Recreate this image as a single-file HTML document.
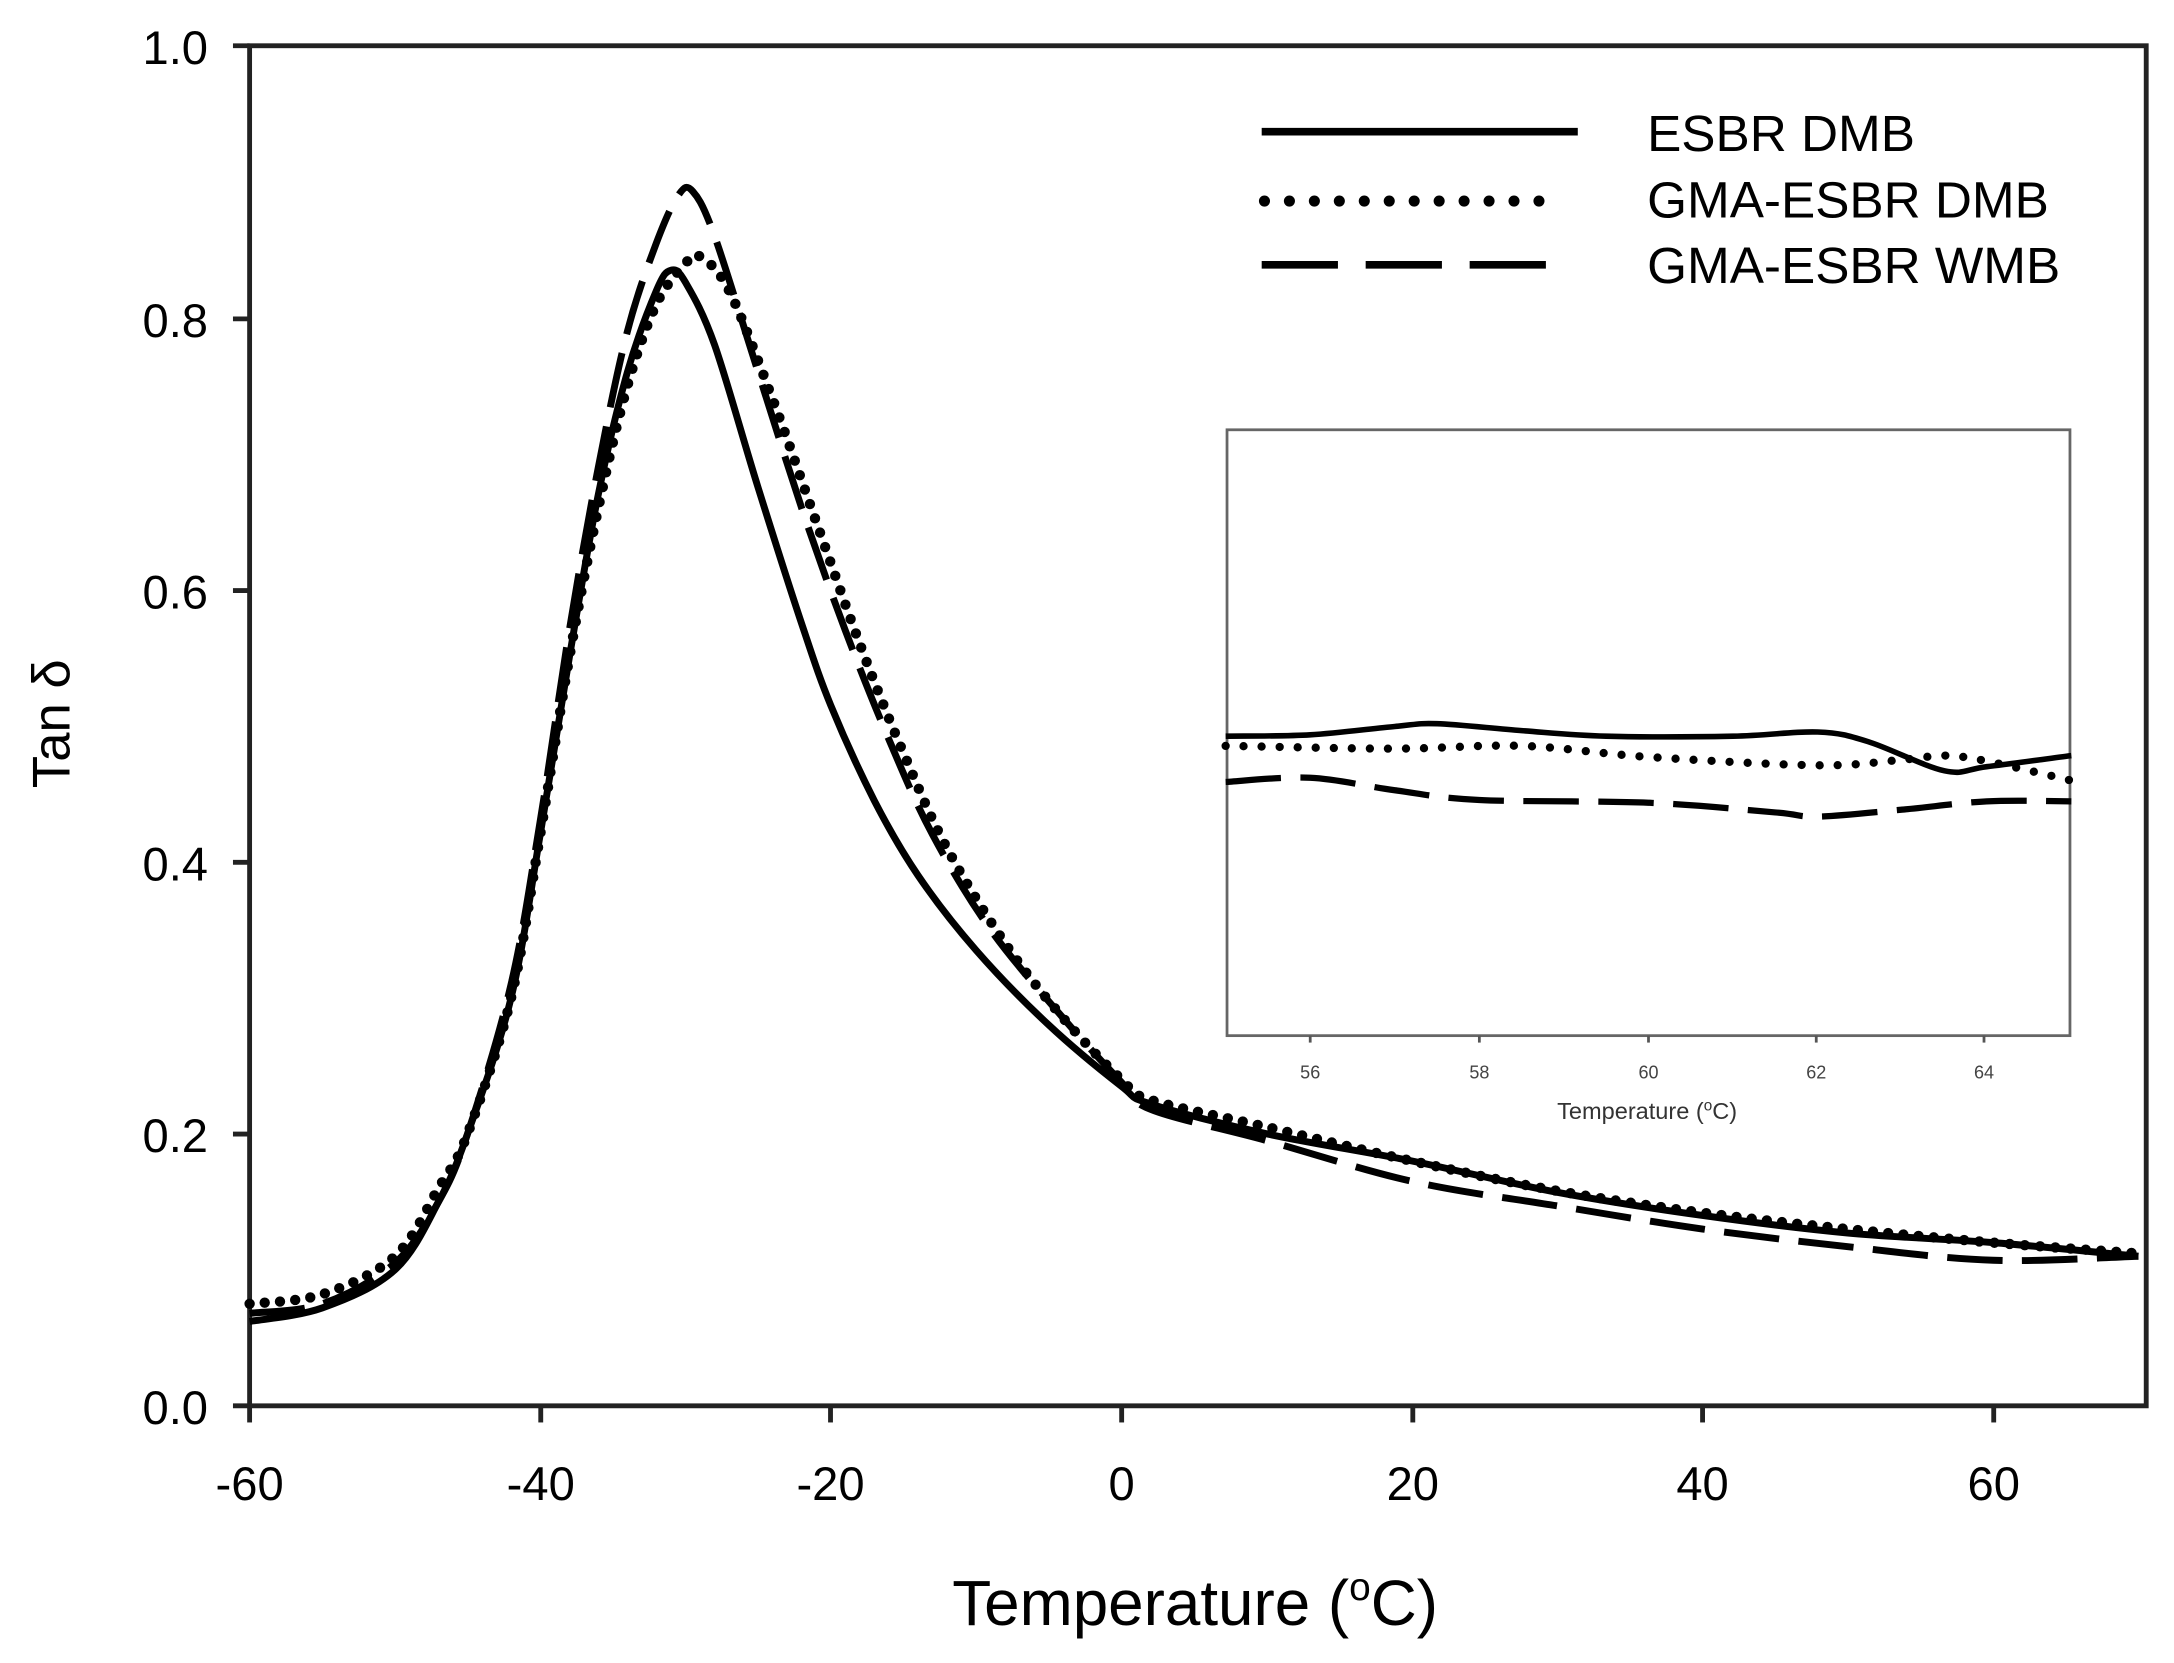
<!DOCTYPE html>
<html><head><meta charset="utf-8"><style>
html,body{margin:0;padding:0;background:#fff}
svg{display:block}
text{font-family:"Liberation Sans",Arial,sans-serif;fill:#000}
</style></head><body>
<svg id="s" width="2174" height="1663" viewBox="0 0 1568 1199.5" xmlns="http://www.w3.org/2000/svg">
<g stroke="#222" stroke-width="3.5" fill="none">
<rect x="180" y="33" width="1368" height="981"/>
<line x1="168" y1="33" x2="180" y2="33"/><line x1="168" y1="230" x2="180" y2="230"/><line x1="168" y1="426" x2="180" y2="426"/><line x1="168" y1="622" x2="180" y2="622"/><line x1="168" y1="818" x2="180" y2="818"/><line x1="168" y1="1014" x2="180" y2="1014"/>
<line x1="180" y1="1014" x2="180" y2="1026"/><line x1="390" y1="1014" x2="390" y2="1026"/><line x1="599" y1="1014" x2="599" y2="1026"/><line x1="809" y1="1014" x2="809" y2="1026"/><line x1="1019" y1="1014" x2="1019" y2="1026"/><line x1="1228" y1="1014" x2="1228" y2="1026"/><line x1="1438" y1="1014" x2="1438" y2="1026"/>
</g>
<g font-size="34" text-anchor="end">
<text x="150" y="46">1.0</text><text x="150" y="243">0.8</text><text x="150" y="439">0.6</text><text x="150" y="635">0.4</text><text x="150" y="831">0.2</text><text x="150" y="1027">0.0</text>
</g>
<g font-size="34" text-anchor="middle">
<text x="180" y="1082">-60</text><text x="390" y="1082">-40</text><text x="599" y="1082">-20</text><text x="809" y="1082">0</text><text x="1019" y="1082">20</text><text x="1228" y="1082">40</text><text x="1438" y="1082">60</text>
</g>
<text x="862" y="1172" font-size="46" text-anchor="middle">Temperature (<tspan font-size="28" dy="-18">o</tspan><tspan dy="18">C)</tspan></text>
<text transform="translate(50,522) rotate(-90)" font-size="38" text-anchor="middle">Tan δ</text>
<g stroke="#000" stroke-width="5.5" fill="none">
<line x1="910" y1="95" x2="1138" y2="95"/>
<line x1="912" y1="145" x2="1128" y2="145" stroke-width="8" stroke-linecap="round" stroke-dasharray="0 18"/>
<line x1="910" y1="191" x2="1115" y2="191" stroke-dasharray="55 20"/>
</g>
<g font-size="37">
<text x="1188" y="109">ESBR DMB</text><text x="1188" y="157">GMA-ESBR DMB</text><text x="1188" y="204">GMA-ESBR WMB</text>
</g>
<rect x="885" y="310" width="608" height="437" fill="#fff" stroke="#666" stroke-width="2"/>
<g stroke="#555" stroke-width="2">
<line x1="945" y1="747" x2="945" y2="752"/><line x1="1067" y1="747" x2="1067" y2="752"/><line x1="1189" y1="747" x2="1189" y2="752"/><line x1="1310" y1="747" x2="1310" y2="752"/><line x1="1431" y1="747" x2="1431" y2="752"/>
</g>
<g font-size="13" text-anchor="middle">
<text x="945" y="778" style="fill:#444">56</text><text x="1067" y="778" style="fill:#444">58</text><text x="1189" y="778" style="fill:#444">60</text><text x="1310" y="778" style="fill:#444">62</text><text x="1431" y="778" style="fill:#444">64</text>
<text x="1188" y="807" font-size="17" style="fill:#333">Temperature (<tspan font-size="11" dy="-6">o</tspan><tspan dy="6">C)</tspan></text>
</g>
<g id="curves" fill="none" stroke="#000"></g>
</svg>
<script>
function X(t){return 180+(t+60)*10.48}
function Y(v){return 1014-v*981}
function IX(t){return 884+(t-55)*61}
function cr(pts){var d="M"+pts[0][0].toFixed(1)+" "+pts[0][1].toFixed(1);
for(var i=0;i<pts.length-1;i++){var p0=pts[Math.max(i-1,0)],p1=pts[i],p2=pts[i+1],p3=pts[Math.min(i+2,pts.length-1)];
var c1=[p1[0]+(p2[0]-p0[0])/6,p1[1]+(p2[1]-p0[1])/6],c2=[p2[0]-(p3[0]-p1[0])/6,p2[1]-(p3[1]-p1[1])/6];
d+=" C"+c1[0].toFixed(1)+" "+c1[1].toFixed(1)+" "+c2[0].toFixed(1)+" "+c2[1].toFixed(1)+" "+p2[0].toFixed(1)+" "+p2[1].toFixed(1);}return d}
function main(a){return a.map(function(p){return [X(p[0]),Y(p[1])]})}
var solid=[[-60,.062],[-55,.072],[-50,.10],[-47,.15],[-45,.2],[-42,.3],[-40,.42],[-38,.55],[-36,.67],[-34,.76],[-32,.82],[-31,.835],[-30,.826],[-28,.78],[-25,.675],[-22,.575],[-20,.515],[-17,.445],[-14,.39],[-10,.335],[-5,.28],[0,.235],[2,.222],[10,.2],[20,.18],[30,.157],[40,.14],[50,.127],[60,.12],[70,.11]];
var dot=[[-60,.075],[-55,.082],[-50,.11],[-47,.16],[-45,.2],[-42,.3],[-40,.42],[-38,.55],[-36,.66],[-34,.75],[-32,.81],[-30,.84],[-29,.845],[-27,.82],[-24,.74],[-21,.65],[-18,.56],[-15,.48],[-12,.41],[-8,.34],[-4,.285],[0,.24],[2,.225],[10,.205],[20,.18],[30,.158],[40,.142],[50,.13],[60,.12],[70,.112]];
var dash=[[-60,.068],[-55,.075],[-50,.105],[-47,.15],[-45,.2],[-42,.31],[-40,.43],[-38,.57],[-36,.69],[-34,.79],[-32,.855],[-30.5,.89],[-29.5,.893],[-28,.86],[-25,.76],[-22,.66],[-19,.57],[-16,.49],[-13,.42],[-9,.35],[-4,.285],[0,.238],[2,.218],[10,.195],[20,.165],[30,.147],[40,.13],[50,.117],[60,.107],[70,.11]];
var g=document.getElementById("curves"),ns="http://www.w3.org/2000/svg";
function add(d,w,da,cap){var p=document.createElementNS(ns,"path");p.setAttribute("d",d);p.setAttribute("stroke-width",w);if(da)p.setAttribute("stroke-dasharray",da);if(cap)p.setAttribute("stroke-linecap",cap);g.appendChild(p)}
add(cr(main(solid)),5);
add(cr(main(dot)),7.5,"0 11","round");
add(cr(main(dash)),5,"40 14");
var is=[[55,531],[56,530],[57,524],[57.5,522],[58.5,527],[59.5,531],[61,531],[62,528],[62.6,535],[63.5,556],[64,553],[65,545]];
var id=[[55,538],[57,540],[58.5,538],[60,546],[62,552],[63,548],[63.5,545],[64,549],[65,563]];
var ida=[[55,564],[56,561],[57,570],[58,577],[60,579],[61.5,586],[62,589],[63,584],[64,578],[65,578]];
function ins(a){return a.map(function(p){return [IX(p[0]),p[1]]})}
add(cr(ins(is)),4);
add(cr(ins(id)),6,"0 13","round");
add(cr(ins(ida)),4.5,"40 14");
</script>
</body></html>
